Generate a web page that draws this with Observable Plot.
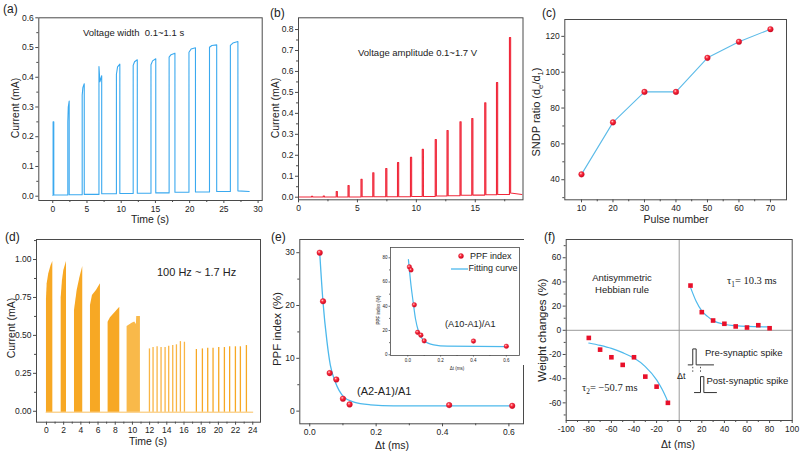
<!DOCTYPE html>
<html><head><meta charset="utf-8">
<script src="https://cdn.jsdelivr.net/npm/d3@7"></script>
<script src="https://cdn.jsdelivr.net/npm/@observablehq/plot@0.6"></script>
<style>
body{margin:0;background:#fff;}
#fig{position:relative;width:800px;height:454px;overflow:hidden;background:#fff;}
</style></head><body>
<svg width="0" height="0" style="position:absolute"><defs>
<radialGradient id="gloss" cx="0.38" cy="0.34" r="0.7"><stop offset="0" stop-color="#ffd6d6"/><stop offset="0.35" stop-color="#ff3040"/><stop offset="1" stop-color="#c8001a"/></radialGradient>
</defs></svg>
<div id="fig"></div>
<script>
// ---------------- (a) voltage width pulses ----------------
const aStart = [0.05, 2.2, 4.3, 6.75, 9.3, 11.75, 14.35, 17.0, 19.9, 22.9, 25.95];
const aEnd   = [0.15, 2.4, 4.6, 7.15, 9.8, 12.35, 15.05, 17.85, 20.85, 23.95, 27.05];
const aOn    = [0.25, 0.25, 0.34, 0.436, 0.41, 0.44, 0.442, 0.468, 0.484, 0.501, 0.507];
const aMid   = [0.25, 0.30, 0.365, 0.385, 0.435, 0.452, 0.455, 0.476, 0.495, 0.507, 0.515];
const aPeak  = [0.25, 0.32, 0.378, 0.405, 0.444, 0.459, 0.462, 0.481, 0.499, 0.509, 0.52];
const aBase  = [0.003, 0.004, 0.005, 0.006, 0.008, 0.009, 0.01, 0.011, 0.013, 0.014, 0.016, 0.018];
const aTail  = [28.7, 0.016];
// ---------------- (b) voltage amplitude spikes ----------------
const bTime = [1.1, 2.1, 3.2, 4.2, 5.3, 6.3, 7.4, 8.4, 9.5, 10.5, 11.6, 12.6, 13.7, 14.7, 15.8, 16.8, 17.9];
const bPeak = [0.004, 0.006, 0.027, 0.055, 0.085, 0.117, 0.137, 0.165, 0.19, 0.228, 0.275, 0.318, 0.36, 0.375, 0.45, 0.547, 0.762];
const bBase = [0.001, 0.001, 0.001, 0.001, 0.001, 0.002, 0.002, 0.002, 0.002, 0.003, 0.003, 0.006, 0.007, 0.009, 0.01, 0.012, 0.013, 0.02];
const bTail = [18.95, 0.013];
const bWidth = 0.1;
// ---------------- (c) SNDP ratio ----------------
const cPulse = [10, 20, 30, 40, 50, 60, 70];
const cRatio = [43, 72, 89, 89, 108, 117, 124];
// ---------------- (d) frequency bursts ----------------
const dEnvT = [[0, 0.08, 0.27, 0.54, 0.74], [1.71, 1.86, 2.02, 2.33], [3.26, 3.57, 3.88, 4.22], [5.12, 5.35, 5.81, 6.28], [7.17, 7.44, 8.02, 8.53], [9.38, 9.96, 10.27, 10.46, 10.5, 10.93]];
const dEnvV = [[0.74, 0.84, 0.906, 0.96, 0.987], [0.747, 0.862, 0.927, 0.987], [0.664, 0.796, 0.879, 0.954], [0.697, 0.763, 0.796, 0.84], [0.587, 0.616, 0.653, 0.686], [0.558, 0.58, 0.589, 0.572, 0.624, 0.624]];
const dSpikeT = [11.98, 12.4, 12.87, 13.33, 13.8, 14.22, 14.69, 15.12, 15.58, 16.05, 17.44, 18.14, 18.76, 19.38, 20.04, 20.7, 21.31, 21.98, 22.56, 23.26];
const dSpikeV = [0.411, 0.42, 0.425, 0.42, 0.42, 0.428, 0.433, 0.438, 0.459, 0.455, 0.407, 0.411, 0.415, 0.415, 0.42, 0.42, 0.425, 0.425, 0.425, 0.433];
const dBaseT = [-0.05, 24.0];
const dBaseV = -0.006;
// ---------------- (e) PPF index ----------------
const eDt  = [0.03, 0.04, 0.06, 0.08, 0.1, 0.12, 0.42, 0.61];
const ePPF = [30.0, 20.8, 7.2, 6.0, 2.35, 1.27, 1.14, 1.0];
const eFitT = [0.030, 0.040, 0.052, 0.062, 0.077, 0.103, 0.133, 0.183, 0.253, 0.615];
const eFitV = [30.0, 20.6, 13.1, 8.7, 5.5, 2.65, 1.7, 1.2, 1.0, 1.0];
// inset (A10-A1)/A1
const iDt  = [0.01, 0.02, 0.04, 0.06, 0.08, 0.1, 0.4, 0.6];
const iPPF = [72.5, 70, 41.2, 18.5, 16.2, 11.5, 11.3, 7.0];
const iFitT = [0.004, 0.02, 0.033, 0.047, 0.067, 0.097, 0.158, 0.24, 0.6];
const iFitV = [78.6, 57, 43.4, 29.7, 18.6, 11.8, 8.2, 7.1, 6.8];
// ---------------- (f) STDP ----------------
const fPosT = [10, 20, 30, 40, 50, 60, 70, 80];
const fPosV = [37, 15, 8.1, 5.4, 3.2, 2.3, 4.2, 1.7];
const fNegT = [-80, -70, -60, -50, -40, -30, -20, -10];
const fNegV = [-6.3, -16, -22.3, -28.6, -22.3, -38.3, -46.6, -60];
const fPosFitT = [10, 15, 20, 25, 30, 40, 50, 60, 80];
const fPosFitV = [35.5, 24, 16, 11.5, 8, 5, 3.8, 3.2, 2.8];
const fNegFitT = [-80, -70, -60, -50, -40, -30, -20, -15, -10];
const fNegFitV = [-10.5, -12.5, -15, -18.5, -23, -30, -41, -49, -59];
const fZero = [0];
// spike schematic (f data units)
const fPreT = [7.96, 12.0, 12.0, 15.0, 15.0, 30.4];
const fPreV = [-28.6, -28.6, -15.4, -15.4, -28.6, -28.6];
const fPostT = [13.5, 18.85, 18.85, 21.8, 21.8, 33.0];
const fPostV = [-51.5, -51.5, -38.3, -38.3, -51.5, -51.5];
const fDashT = [12.0, 18.85];
const fDashV = [-30.6, -36.0];

// ---------------- styling ----------------
const FONT = '"Liberation Sans", Arial, Helvetica, sans-serif';
const SERIF = '"Liberation Serif", "Times New Roman", serif';
const AXC = "#4a4a4a";
const BLUE = "#3aa9ef", RED = "#f0283a", CBLUE = "#5cbbe8", ORANGE = "#f7a824", FIT = "#4db9ec", SQ = "#e8102a";
const fig = document.getElementById("fig");

function panel(o) {
  const [bx, by, bw, bh] = o.box;
  const [fl, ft, fr, fb] = o.frame;
  const ts = o.ts ?? 3, ms = o.ms ?? 2, fs = o.fs ?? 8.5, tp = o.tp ?? 2;
  const svg = Plot.plot({
    width: bw, height: bh,
    marginLeft: fl - bx, marginRight: bx + bw - fr,
    marginTop: ft - by, marginBottom: by + bh - fb,
    x: {domain: o.xd}, y: {domain: o.yd},
    style: {fontFamily: FONT, fontSize: fs + "px", color: "#222", background: o.bg || "none", overflow: "visible"},
    marks: [
      ...(o.bg ? [Plot.frame({fill: o.bg, stroke: null})] : []),
      ...o.marks,
      Plot.frame({stroke: AXC, strokeWidth: o.fw ?? 1}),
      Plot.axisX({ticks: o.xt, tickFormat: o.xf, tickSize: ts, tickPadding: tp, label: null, stroke: AXC, strokeWidth: o.fw ?? 1}),
      Plot.axisX({ticks: o.xm, tickFormat: () => "", tickSize: ms, tickPadding: 0, label: null, stroke: AXC, strokeWidth: o.fw ?? 1}),
      Plot.axisY({ticks: o.yt, tickFormat: o.yf, tickSize: ts, tickPadding: tp, label: null, stroke: AXC, strokeWidth: o.fw ?? 1}),
      Plot.axisY({ticks: o.ym, tickFormat: () => "", tickSize: ms, tickPadding: 0, label: null, stroke: AXC, strokeWidth: o.fw ?? 1})
    ]
  });
  svg.style.position = "absolute";
  svg.style.left = bx + "px";
  svg.style.top = by + "px";
  fig.appendChild(svg);
}

function txt(html, x, y, o = {}) {
  const d = document.createElement("div");
  d.innerHTML = html;
  Object.assign(d.style, {
    position: "absolute", left: x + "px", top: y + "px", whiteSpace: "nowrap", lineHeight: "1",
    fontSize: (o.size || 10) + "px", fontFamily: o.font || FONT, color: o.color || "#222"
  });
  if (o.rotate) d.style.transform = "translate(-50%,-50%) rotate(-90deg)";
  else if (o.middle) d.style.transform = "translate(-50%,-50%)";
  else d.style.transform = "translate(0,-50%)";
  fig.appendChild(d);
}

const f1 = d3.format(".1f"), f2 = d3.format(".2f"), fi = d => String(d);

// ---- build (a)
const aPts = [{t: 0, v: aBase[0]}];
aStart.forEach((s, i) => {
  const e = aEnd[i];
  aPts.push({t: s, v: aBase[i]}, {t: s, v: aOn[i]}, {t: s + (e - s) / 3, v: aMid[i]}, {t: e, v: aPeak[i]}, {t: e, v: aBase[i + 1]});
});
aPts.push({t: aTail[0], v: aTail[1]});
panel({
  box: [0, 0, 270, 225], frame: [38.3, 17.3, 261.7, 200],
  xd: [-2.04, 30.6], yd: [-0.0145, 0.6],
  xt: [0, 5, 10, 15, 20, 25, 30], xm: d3.range(2.5, 30, 5), xf: fi,
  yt: [0, 0.1, 0.2, 0.3, 0.4, 0.5, 0.6], ym: d3.range(0.05, 0.6, 0.1), yf: f1,
  marks: [Plot.line(aPts, {x: "t", y: "v", stroke: BLUE, strokeWidth: 1.1})]
});

// ---- build (b)
const bPts = [{t: 0, v: bBase[0]}];
bTime.forEach((t, i) => {
  bPts.push({t, v: bBase[i]}, {t, v: bPeak[i]}, {t: t + bWidth, v: bPeak[i]}, {t: t + bWidth, v: bBase[i + 1]});
});
bPts.push({t: bTail[0], v: bTail[1]});
panel({
  box: [265, 0, 268, 225], frame: [298, 17.3, 522.5, 199.3],
  xd: [0, 19.05], yd: [-0.0124, 0.856],
  xt: [0, 5, 10, 15], xm: d3.range(2.5, 19, 5), xf: fi,
  yt: d3.range(0, 0.81, 0.1), ym: d3.range(0.05, 0.85, 0.1), yf: f1,
  marks: [Plot.line(bPts, {x: "t", y: "v", stroke: RED, strokeWidth: 1.1})]
});

// ---- build (c)
const cData = cPulse.map((p, i) => ({p, r: cRatio[i]}));
panel({
  box: [535, 0, 265, 225], frame: [564.3, 19, 786, 199.3],
  xd: [4.7, 75.1], yd: [28.8, 129.4],
  xt: cPulse, xm: d3.range(15, 75, 10), xf: fi,
  yt: [40, 60, 80, 100, 120], ym: [30, 50, 70, 90, 110], yf: fi,
  marks: [
    Plot.line(cData, {x: "p", y: "r", stroke: CBLUE, strokeWidth: 1.1}),
    Plot.dot(cData, {x: "p", y: "r", r: 2.8, fill: "url(#gloss)", stroke: "#d0102a", strokeWidth: 0.4})
  ]
});

// ---- build (d)
const dEnv = [];
dEnvT.forEach((ts, g) => ts.forEach((t, k) => dEnv.push({g, t, v: dEnvV[g][k], b: dBaseV})));
const dSpikes = dSpikeT.map((t, i) => ({t, v: dSpikeV[i], b: dBaseV}));
const dBase = dBaseT.map(t => ({t, v: dBaseV}));
panel({
  box: [0, 225, 265, 229], frame: [36, 239, 260, 421.7],
  xd: [-1.16, 24.9], yd: [-0.072, 1.132],
  xt: d3.range(0, 25, 2), xm: d3.range(1, 25, 2), xf: fi,
  yt: [0, 0.25, 0.5, 0.75, 1], ym: [0.125, 0.375, 0.625, 0.875, 1.125], yf: f2,
  marks: [
    Plot.line(dBase, {x: "t", y: "v", stroke: "#f9c060", strokeWidth: 1}),
    Plot.areaY(dEnv.filter(d => d.g < 5), {x: "t", y1: "b", y2: "v", z: "g", fill: ORANGE}),
    Plot.areaY(dEnv.filter(d => d.g === 5), {x: "t", y1: "b", y2: "v", z: "g", fill: "#f9b94a"}),
    Plot.ruleX(dSpikes.slice(0, 10), {x: "t", y1: "b", y2: "v", stroke: "#f9b545", strokeWidth: 1.3}),
    Plot.ruleX(dSpikes.slice(10), {x: "t", y1: "b", y2: "v", stroke: ORANGE, strokeWidth: 1.3})
  ]
});

// ---- build (e)
const eData = eDt.map((t, i) => ({t, v: ePPF[i]}));
const eFit = eFitT.map((t, i) => ({t, v: eFitV[i]}));
panel({
  box: [265, 225, 268, 229], frame: [299.3, 239, 523, 423.3],
  xd: [-0.03, 0.644], yd: [-2.4, 32.5],
  xt: [0, 0.2, 0.4, 0.6], xm: [0.1, 0.3, 0.5], xf: f1,
  yt: [0, 10, 20, 30], ym: [5, 15, 25], yf: fi,
  marks: [
    Plot.line(eFit, {x: "t", y: "v", curve: "monotone-x", stroke: FIT, strokeWidth: 1.3}),
    Plot.dot(eData, {x: "t", y: "v", r: 2.8, fill: "url(#gloss)", stroke: "#d0102a", strokeWidth: 0.4})
  ]
});
// inset
const iData = iDt.map((t, i) => ({t, v: iPPF[i]}));
const iFit = iFitT.map((t, i) => ({t, v: iFitV[i]}));
panel({
  box: [370, 240, 155, 125], frame: [390, 247, 519, 355],
  xd: [-0.105, 0.68], yd: [-0.6, 88.5],
  xt: [0, 0.2, 0.4, 0.6], xm: [0.1, 0.3, 0.5], xf: f1,
  yt: [0, 20, 40, 60, 80], ym: [10, 30, 50, 70], yf: fi,
  ts: 1.5, ms: 1, fs: 4.5, tp: 1.5, fw: 0.8, bg: "#fff",
  marks: [
    Plot.line(iFit, {x: "t", y: "v", curve: "monotone-x", stroke: FIT, strokeWidth: 1.2}),
    Plot.dot(iData, {x: "t", y: "v", r: 2.3, fill: "url(#gloss)", stroke: "#d0102a", strokeWidth: 0.4})
  ]
});

// ---- build (f)
const fPos = fPosT.map((t, i) => ({t, v: fPosV[i]}));
const fNeg = fNegT.map((t, i) => ({t, v: fNegV[i]}));
const fPosFit = fPosFitT.map((t, i) => ({t, v: fPosFitV[i]}));
const fNegFit = fNegFitT.map((t, i) => ({t, v: fNegFitV[i]}));
const fPre = fPreT.map((t, i) => ({t, v: fPreV[i]}));
const fPost = fPostT.map((t, i) => ({t, v: fPostV[i]}));
const fDash = fDashT.map(t => ({t, v1: fDashV[0], v2: fDashV[1]}));
panel({
  box: [535, 225, 265, 229], frame: [565.7, 239, 791.7, 420],
  xd: [-100, 100], yd: [-74.6, 75.1],
  xt: d3.range(-100, 101, 20), xm: d3.range(-90, 100, 20), xf: fi,
  yt: [-60, -40, -20, 0, 20, 40, 60], ym: d3.range(-70, 75, 20), yf: fi,
  marks: [
    Plot.ruleX(fZero, {stroke: "#9a9a9a", strokeWidth: 1}),
    Plot.ruleY(fZero, {stroke: "#9a9a9a", strokeWidth: 1}),
    Plot.line(fPosFit, {x: "t", y: "v", curve: "monotone-x", stroke: FIT, strokeWidth: 1.2}),
    Plot.line(fNegFit, {x: "t", y: "v", curve: "monotone-x", stroke: FIT, strokeWidth: 1.2}),
    Plot.dot(fPos, {x: "t", y: "v", symbol: "square", r: 2.6, fill: SQ}),
    Plot.dot(fNeg, {x: "t", y: "v", symbol: "square", r: 2.6, fill: SQ}),
    Plot.line(fPre, {x: "t", y: "v", stroke: "#333", strokeWidth: 1}),
    Plot.line(fPost, {x: "t", y: "v", stroke: "#333", strokeWidth: 1}),
    Plot.ruleX(fDash, {x: "t", y1: "v1", y2: "v2", stroke: "#555", strokeWidth: 1, strokeDasharray: "1.5,2"})
  ]
});

// ---------------- texts ----------------
const L = 12;
txt("(a)", 3, 9, {size: L}); txt("(b)", 270, 13, {size: L}); txt("(c)", 542, 13, {size: L});
txt("(d)", 5, 237, {size: L}); txt("(e)", 271, 237, {size: L}); txt("(f)", 544, 237, {size: L});

txt("Current (mA)", 15, 108, {size: 10.5, rotate: true});
txt("Time (s)", 150, 219, {size: 10.5, middle: true});
txt("Voltage width&nbsp; 0.1~1.1 s", 83, 33, {size: 9.5});

txt("Current (mA)", 275, 108, {size: 10.5, rotate: true});
txt("Voltage amplitude 0.1~1.7 V", 358, 53, {size: 9.5});

txt("SNDP ratio (d<sub style='font-size:70%'>e</sub>/d<sub style='font-size:70%'>1</sub>)", 538, 112, {size: 11, rotate: true});
txt("Pulse number", 676, 219, {size: 10.5, middle: true});

txt("Current (mA)", 11, 328, {size: 10.5, rotate: true});
txt("Time (s)", 148, 441, {size: 10.5, middle: true});
txt("100 Hz ~ 1.7 Hz", 157, 272, {size: 11});

txt("PPF index (%)", 278, 329, {size: 11.5, rotate: true});
txt("Δt (ms)", 392, 445, {size: 10.5, middle: true});
txt("(A2-A1)/A1", 357, 391, {size: 11});
txt("(A10-A1)/A1", 445, 325, {size: 9.2});
txt("PPF index (%)", 379, 310, {size: 4.5, rotate: true});
txt("Δt (ms)", 457, 369, {size: 4.5, middle: true});
txt("PPF index", 470, 256, {size: 9});
txt("Fitting curve", 468.5, 267.5, {size: 9});
txt("<svg width='6' height='6'><circle cx='3' cy='3' r='2.5' fill='url(#gloss)' stroke='#d0102a' stroke-width='0.4'/></svg>", 457.7, 256, {});
txt("<svg width='18' height='4'><line x1='0' y1='2' x2='17' y2='2' stroke='" + FIT + "' stroke-width='1.3'/></svg>", 450.5, 267.5, {});

txt("Weight changes (%)", 543, 330, {size: 11.5, rotate: true});
txt("Δt (ms)", 678, 444, {size: 10.5, middle: true});
txt("Antisymmetric", 622, 278, {size: 9.5, middle: true});
txt("Hebbian rule", 622, 290, {size: 9.5, middle: true});
txt("τ<sub style='font-size:70%'>1</sub>= 10.3 ms", 727, 282, {size: 10.5, font: SERIF});
txt("τ<sub style='font-size:70%'>2</sub>= −50.7 ms", 582, 389, {size: 10.5, font: SERIF});
txt("Pre-synaptic spike", 705, 353, {size: 9.5});
txt("Post-synaptic spike", 706.5, 381, {size: 9.5});
txt("Δt", 677, 376, {size: 9});
</script>
</body></html>
